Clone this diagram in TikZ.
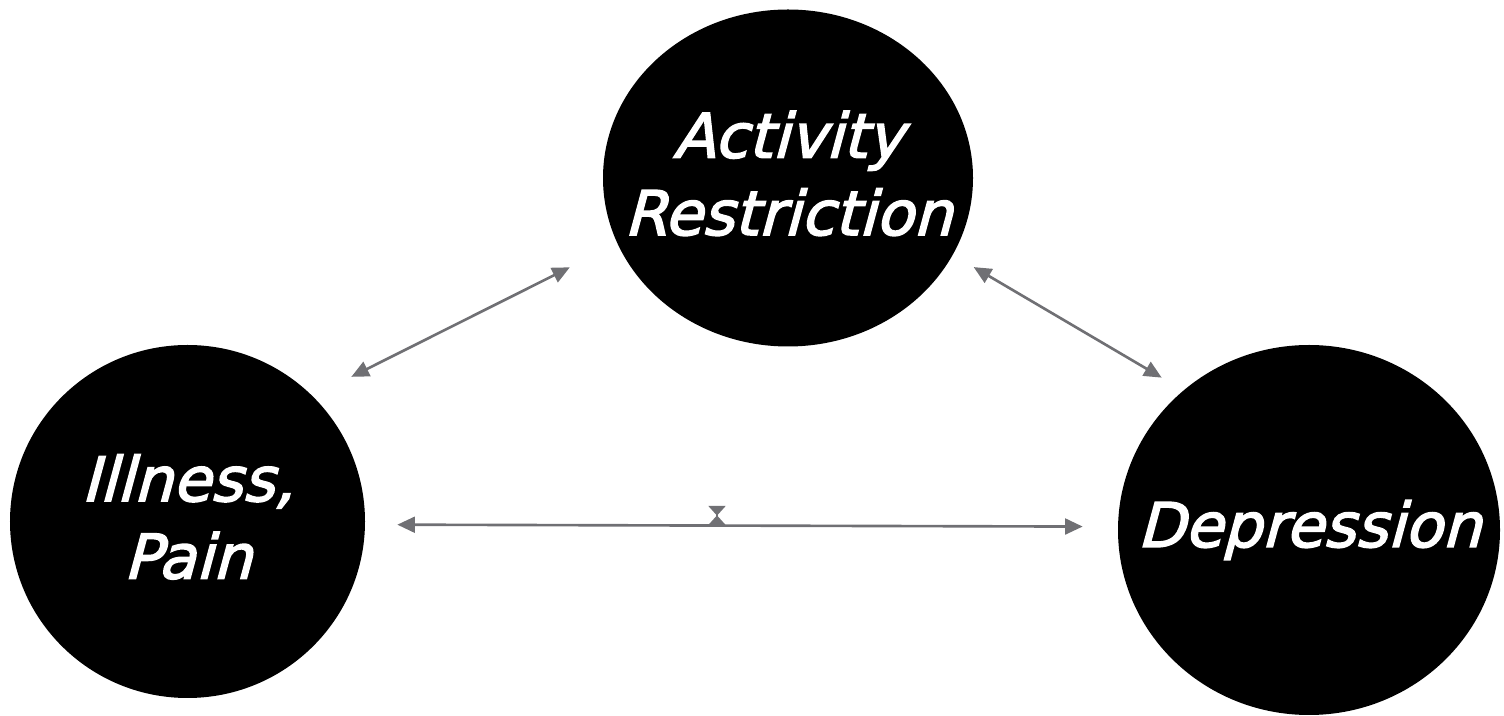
\documentclass[tikz,border=0pt]{standalone}
\usepackage{fontspec}
\usepackage{tikz}
\usetikzlibrary{arrows.meta,shapes.geometric}

\newfontfamily\bubblefont{DejaVu Sans}[FakeSlant=0.27,FakeBold=2.5]
\definecolor{linkgray}{RGB}{112,112,116}

\begin{document}
\begin{tikzpicture}[<->,>={Triangle[length=10pt,width=9pt]},auto,
    bubble/.style={ellipse,fill=black,text=white,inner sep=0pt,align=center,
      font=\bubblefont\fontsize{35}{44}\selectfont},
    link/.style={draw=linkgray,line width=1.5pt}]
    %\draw[help lines] (0,0) grid (30,14);
    \useasboundingbox (0,0) rectangle (30.08,14.32);
    \node[bubble,minimum width=7.4cm,minimum height=6.74cm,text depth=0.2cm] (act) at (15.76,10.76)
      {\makebox[0pt]{Activity}\\ \makebox[0pt]{Restriction}} ;
    \node[bubble,minimum width=7.1cm,minimum height=7.06cm,text depth=0.2cm] (ill) at (3.75,3.89)
      {\makebox[0pt]{Illness,}\\ \makebox[0pt]{Pain}} ;
    \node[bubble,minimum width=7.64cm,minimum height=7.4cm] (dep) at (26.18,3.72)
      {\makebox[0pt]{Depression}} ;
    \coordinate (tietop) at (14.34,4.2) ;
    \coordinate (tiebot) at (14.34,3.82) ;
    \path
    (ill.45) edge [link,shorten <=0.86cm,shorten >=1.06cm] (act.201)
    (act.335) edge [link,shorten <=0.48cm,shorten >=0.5cm] (dep.132)
    (ill.-1) edge [link,shorten <=0.64cm,shorten >=0.7cm] (dep.179.3);
    \draw[link,>-<,>={Triangle[length=5.5pt,width=9.5pt]}] (tietop) -- (tiebot) ;
\end{tikzpicture}
\end{document}
